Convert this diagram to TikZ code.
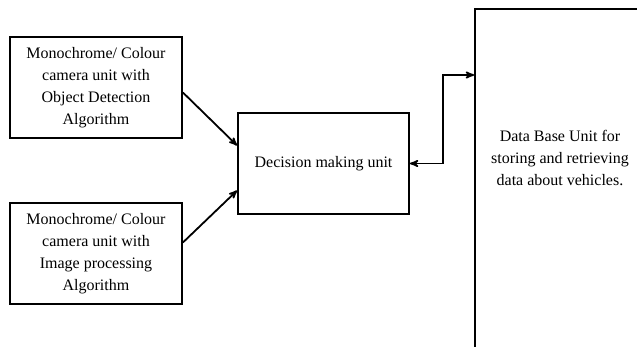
\documentclass[tikz,border=0pt]{standalone}
\usepackage{fontspec}
\setmainfont{Liberation Serif}
\usetikzlibrary{arrows}

\begin{document}
\begin{tikzpicture}[>=stealth',x=1pt,y=-1pt,line width=1.8pt,
    unit/.style={draw,align=center,inner sep=0pt,font=\fontsize{16}{22}\selectfont},
    plain/.style={align=center,inner sep=0pt,font=\fontsize{16}{22}\selectfont}]
    \useasboundingbox (0,0) rectangle (637,347);

    \node[unit,minimum width=172,minimum height=101] (cam1) at (96,87.5) {Monochrome/ Colour\\camera unit with\\Object Detection\\Algorithm};
    \node[unit,minimum width=172,minimum height=101] (cam2) at (96,253.5) {Monochrome/ Colour\\camera unit with\\Image processing\\Algorithm};
    \node[unit,minimum width=171,minimum height=101] (dec) at (323.5,163.5) {Decision making unit};
    \node[draw,minimum width=170,minimum height=345] (db) at (560,181.5) {};
    \node[plain] (dbtext) at (560,158) {Data Base Unit for\\storing and retrieving\\data about vehicles.};
    \coordinate (turn) at (443,75);

    \path[->] ([yshift=-5pt]cam1.east) edge ([yshift=18pt]dec.west);
    \path[->] ([yshift=11pt]cam2.east) edge ([yshift=-27pt]dec.west);
    \draw[<->] (dec.east) -- (turn |- dec.east) -- (turn) -- (turn -| db.west);
\end{tikzpicture}
\end{document}
